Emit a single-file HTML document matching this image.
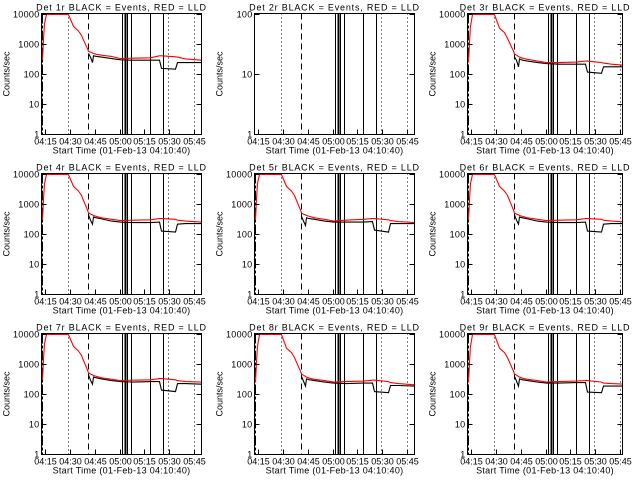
<!DOCTYPE html>
<html><head><meta charset="utf-8"><style>
html,body{margin:0;padding:0;background:#fff;}
svg{display:block;}
text{font-family:"Liberation Sans",sans-serif;font-size:9px;fill:#000;}
</style></head><body>
<svg id="c" width="640" height="480"></svg>
<script>
const times=[12.57,13.32,14.39,15.46,28.94,31.51,34.51,36.86,39.96,41.14,42.21,43.28,44.14,45.42,48.63,54.52,60.4,67.88,78.59,83.94,85.01,93.57,94.64,99.99,109.62];
const N=null;
const red1=[300,1500,5000,10000,10000,4000,2800,2000,720,600,560,520,500,470,440,400,340,350,360,420,420,390,380,330,300];
const blk1=[N,N,N,N,N,N,N,N,N,500,380,250,420,400,380,340,310,300,300,300,160,150,250,250,250];
const red3=[250,1200,4000,10000,10000,3500,2500,1600,600,480,440,400,380,350,320,280,250,250,260,280,280,250,240,220,200];
const blk3=[N,N,N,N,N,N,N,N,N,380,300,180,330,300,280,250,230,220,220,220,120,110,180,180,180];
const red4=[300,1500,5000,10000,10000,4000,2800,2000,650,520,480,450,430,400,360,320,290,300,310,340,340,320,300,280,260];
const blk4=[N,N,N,N,N,N,N,N,N,450,300,220,380,360,330,280,260,250,250,260,130,120,220,230,230];
const red5=[300,1500,5000,10000,10000,4000,2800,2000,650,520,480,450,430,400,360,320,280,300,320,340,340,310,290,270,250];
const blk5=[N,N,N,N,N,N,N,N,N,400,280,200,360,340,320,280,260,260,260,270,140,120,230,230,230];
const red6=[300,1500,5000,10000,10000,4000,2800,2000,650,520,480,450,430,400,360,320,290,300,310,340,340,320,300,280,260];
const blk6=[N,N,N,N,N,N,N,N,N,450,300,220,380,360,330,280,260,250,250,260,130,120,220,230,230];
const red7=[300,1500,5000,10000,10000,4000,2800,2000,650,520,480,450,430,400,360,320,290,300,310,340,340,310,290,270,260];
const blk7=[N,N,N,N,N,N,N,N,N,450,300,220,380,360,330,290,270,260,270,270,140,125,230,230,220];
const red8=[250,1200,4000,10000,10000,3500,2500,1700,600,480,440,400,380,350,320,290,260,270,280,300,300,270,250,230,210];
const blk8=[N,N,N,N,N,N,N,N,N,400,280,190,330,310,290,260,240,230,240,240,125,115,200,200,190];
const red9=[250,1200,4000,10000,10000,3500,2500,1700,600,480,440,400,380,350,320,290,260,270,280,290,290,260,240,230,220];
const blk9=[N,N,N,N,N,N,N,N,N,400,280,190,330,310,290,260,240,240,250,250,120,115,190,190,190];
const dotted=[28.94,89.18,105.55];
const dashed=[41.14];
const solid=[61.47,63.61,64.57,67.25,78.27,86.72];
const xTicks=[15,30,45,60,75,90,105];
const xTickLabels=["04:15","04:30","04:45","05:00","05:15","05:30","05:45"];
const panels=[
 {id:1,red:red1,blk:blk1,max:4},{id:2,red:null,blk:null,max:2},{id:3,red:red3,blk:blk3,max:4},
 {id:4,red:red4,blk:blk4,max:4},{id:5,red:red5,blk:blk5,max:4},{id:6,red:red6,blk:blk6,max:4},
 {id:7,red:red7,blk:blk7,max:4},{id:8,red:red8,blk:blk8,max:4},{id:9,red:red9,blk:blk9,max:4}];
const svg=document.getElementById('c');
const NS='http://www.w3.org/2000/svg';
function mk(t,a,p){const e=document.createElementNS(NS,t);for(const k in a)e.setAttribute(k,a[k]);(p||svg).appendChild(e);return e;}
const colL=[41,254,467],colW=[160,160,155],rowT=[13,173,333],H=121;
panels.forEach((p,i)=>{
 const L=colL[i%3]+0.5,W=colW[i%3],T=rowT[Math.floor(i/3)]+0.5,B=T+H;
 const g=mk('g',{});
 
 
 const xs=m=>Math.round(L+(m-12.57)*1.645)+0.5;
 const ys=v=>B-(Math.log10(v)/p.max)*(H-1);
 const clip=mk('clipPath',{id:'cp'+i},g);mk('rect',{x:L,y:T,width:W,height:H},clip);
 dotted.forEach(m=>{const x=xs(m);if(x<L+W){const l=mk('line',{x1:x,x2:x,y1:T,y2:B,stroke:'#000','stroke-dasharray':'1,3','shape-rendering':'crispEdges'},g);}});
 dashed.forEach(m=>{const x=xs(m);const l=mk('line',{x1:x,x2:x,y1:T,y2:B,stroke:'#000','stroke-dasharray':'6,4','shape-rendering':'crispEdges'},g);});
 solid.forEach((m,k)=>{const x=xs(m);const l=mk('line',{x1:x,x2:x,y1:T,y2:B,stroke:'#000','stroke-width':k==1?2:1,'shape-rendering':'crispEdges'},g);});
 if(p.red){const s=mk('line',{x1:L+1,x2:L+1,y1:T,y2:B,stroke:'#000','stroke-dasharray':'10,2,3,2','shape-rendering':'crispEdges'},g);}
 function line(arr,col,name){let d='';let pen=false;arr.forEach((v,k)=>{if(v==null){pen=false;return;}d+=(pen?'L':'M')+xs(times[k]).toFixed(1)+','+ys(v).toFixed(1);pen=true;});
  const pth=mk('path',{d:d,fill:'none',stroke:col,'stroke-width':1.1,'clip-path':'url(#cp'+i+')'},g);}
 if(p.blk)line(p.blk,'#000','events-line');
 if(p.red)line(p.red,'#f00','lld-line');
 const bx=mk('rect',{x:L,y:T,width:W,height:H,fill:'none',stroke:'#000','shape-rendering':'crispEdges'},g);
 for(let d=0;d<=p.max;d++){const y=ys(Math.pow(10,d));
  mk('line',{x1:L,x2:L+5,y1:y,y2:y,stroke:'#000'},g);mk('line',{x1:L+W-5,x2:L+W,y1:y,y2:y,stroke:'#000'},g);
  const t=mk('text',{x:L-2,y:y+3,'text-anchor':'end','letter-spacing':'0.3'},g);t.textContent=String(Math.pow(10,d));}
 xTicks.forEach((m,k)=>{const x=xs(m);
  if(x<=L+W+2){mk('line',{x1:x,x2:x,y1:B,y2:B-5,stroke:'#000'},g);}
  const t=mk('text',{x:x,y:B+10,'text-anchor':'middle','font-size':'8'},g);t.textContent=xTickLabels[k];});
 const xt=mk('text',{x:L+W/2,y:B+19,'text-anchor':'middle','font-size':'10','letter-spacing':'0.3'},g);xt.textContent='Start Time (01-Feb-13 04:10:40)';
 const tt=mk('text',{x:L+W/2,y:T-3,'text-anchor':'middle','font-size':'10','letter-spacing':'0.8'},g);tt.textContent='Det '+p.id+'r BLACK = Events, RED = LLD';
 const yx=L-32,yy=T+H/2;const yt=mk('text',{x:yx,y:yy,'text-anchor':'middle',transform:'rotate(-90 '+yx+' '+yy+')','font-size':'8'},g);yt.textContent='Counts/sec';
});
</script>
</body></html>
